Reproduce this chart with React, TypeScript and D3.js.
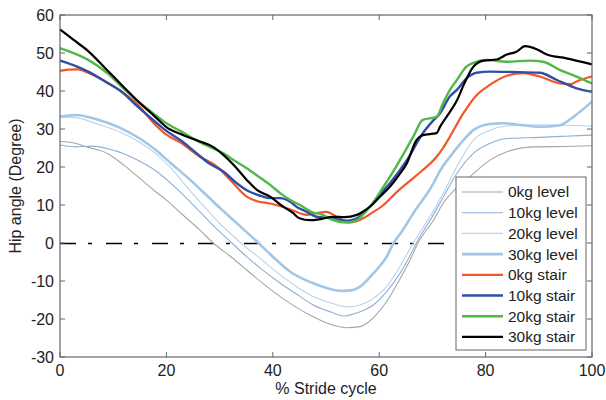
import React from "react";
import * as d3 from "d3";

type P = [number, number];

const level0: P[] = [[0,26.7],[3,26.2],[5,25.3],[9,23.5],[12,20.5],[15,17],[18,13.5],[20,11.3],[23,7.5],[26.3,3.4],[28.8,0],[32,-3.5],[35.1,-7.1],[38,-10.5],[41.4,-14.1],[44.5,-17],[47.6,-19.4],[50.8,-21.4],[53.9,-22.3],[56.4,-22],[58,-20.8],[59.5,-18.8],[61.4,-15.4],[63.9,-9.5],[65.8,-4.5],[67.3,0],[70.2,6],[72,10.4],[74.6,14.5],[77,17.4],[80.8,21.8],[84,24],[89,25.3],[95,25.4],[100,25.6]];
const level10: P[] = [[0,25.8],[3,25.3],[6,25.5],[9,24.8],[12,23.5],[15,21.5],[18,19],[21,15.5],[24,11.5],[26.3,8.2],[29,4.3],[32.3,0],[35,-3.5],[38,-7],[41.4,-10.6],[44.5,-13.5],[47.6,-16.3],[50.8,-18.1],[53.3,-19.2],[56.4,-18.1],[58.9,-16.3],[61.4,-12.8],[63.9,-8],[65.8,-3.3],[67,0],[70,7],[72,12],[74.6,18.3],[77.7,23.6],[80.8,26.2],[84,27.5],[90,27.8],[95,28.1],[100,28.4]];
const level20: P[] = [[0,33.2],[3,33],[7,31.3],[11.6,29],[15,26.5],[18,23.5],[21,19.5],[24,14.5],[26.3,10.8],[30,5.2],[34,0],[38,-4.5],[41.4,-8.4],[44.5,-11.5],[47.6,-14.1],[50.8,-15.7],[53.9,-16.8],[56.4,-16.3],[58.9,-14.6],[61.4,-11.5],[63.9,-6.2],[66.4,0],[70,8],[72,13],[74.6,20.1],[77.7,27.1],[80.8,29.7],[84,30.8],[90,31.1],[95,31],[100,30.8]];
const level30: P[] = [[0,33.2],[3,33.7],[7,32.5],[11,30.5],[15,27.5],[18,24.5],[21,20.8],[24,17.2],[27,13.3],[30,9.3],[33,5.5],[37.3,0],[40,-3.6],[43.2,-7.5],[47.6,-10.6],[50,-11.8],[53,-12.6],[55,-12.4],[56.4,-11.5],[58.9,-8],[61.4,-3.6],[62.7,0],[64,2.5],[66.4,7.8],[70.2,15.7],[71.5,19.2],[73.3,22.7],[75.2,26],[77.7,29.7],[80.8,31.3],[83.3,31.5],[87,31],[90,30.6],[94,31],[96.5,33.2],[100,37.2]];

const stair0: P[] = [[0,45.3],[1.5,45.6],[3.4,45.7],[5.3,44.8],[8.5,42.5],[11.6,39.8],[14.7,36.3],[17.9,31.1],[20,28.5],[22.6,26.5],[26.3,22.7],[29.5,20.1],[32,16.6],[35.1,12.2],[37,11],[39.5,10.4],[43.2,8.9],[46.4,7.4],[48,7.8],[50.1,8.2],[52,6.9],[54.5,5.4],[57,6.5],[58.5,7.8],[60.8,10],[63,13],[65.2,15.7],[68.2,19.2],[70.8,22.7],[72,25],[73.3,28],[75.8,34.1],[78.3,38.9],[80.8,41.6],[84,44],[87.1,44.7],[90.2,43.8],[94,42],[96,41.8],[97.1,42.5],[100,43.8]];
const stair10: P[] = [[0,48],[2.5,46.8],[5.3,45.1],[8.5,42.5],[11.6,39.8],[14.5,36],[17.9,31.9],[20,29.5],[22.6,27.1],[25.7,23.6],[28,21],[30.7,18.8],[33,16],[35.1,13.9],[37.5,12.5],[39.5,11.8],[41.4,11.8],[43.2,10.9],[44.5,9.5],[46.4,8.2],[48.2,6.9],[51.3,6.5],[53.9,5.9],[55.8,6.5],[57,7.8],[58.3,9.6],[60,12.5],[62,15.7],[65.2,21.8],[68.2,28.9],[70,32],[71.4,34.1],[73.3,38.6],[74.6,40.3],[76.4,43.3],[78.3,44.8],[80.8,45.1],[85,45],[90.2,44.8],[93.4,42.9],[97.1,40.7],[100,39.8]];
const stair20: P[] = [[0,51.3],[2.5,50],[5.3,48.2],[9,44.6],[11.6,41.1],[14.5,37.5],[17.9,33.7],[20,31.5],[22.6,29.5],[26.3,26.5],[30.7,23.6],[33,21.5],[35.1,19.7],[37.5,17.3],[39.5,15.3],[41.5,13],[43.8,10.9],[45.1,10],[47.6,8],[49,7.6],[51.3,6.05],[53.9,5.4],[55.8,6],[57,7.5],[58.3,9.6],[60.8,14.8],[62.5,18.5],[63.9,21.8],[66.4,28],[68.2,32.4],[70.8,33.2],[72,36.8],[73.3,40.3],[74.6,42.9],[76.4,46.4],[77.7,47.4],[80.2,48.2],[84,47.7],[88.3,48],[90.8,47.7],[94,45.5],[97.1,43.8],[100,42]];
const stair30: P[] = [[0,56.2],[2.5,53.5],[5.3,50.5],[8.5,46],[11.6,41.6],[14.5,37.5],[17.9,33.2],[20,30.5],[23,28.5],[26.3,26.7],[28.5,25.5],[30.7,23.2],[33,20],[35.1,16.6],[37,14],[39.5,12.2],[41.5,10],[43.8,7.9],[45,6.5],[47,6],[49,6.3],[51.3,6.9],[53.5,6.8],[55.8,7.4],[57,8.3],[58.3,9.6],[60,12],[62,14.8],[63.5,17.5],[65.2,21],[67,27.1],[68.2,28.4],[70.8,28.9],[71.4,30.5],[73.3,34.5],[74.6,37.5],[76,42],[77.7,46.4],[79.6,48],[82.1,48.3],[84,49.6],[85.8,50.3],[87.4,51.8],[89.6,51],[91.5,49.6],[95.2,48.6],[100,47]];

const seriesNames = ["0kg level","10kg level","20kg level","30kg level","0kg stair","10kg stair","20kg stair","30kg stair"];
const seriesData = [level0, level10, level20, level30, stair0, stair10, stair20, stair30];
const seriesColors = ["#a6a6a6","#8eb0d6","#b9d3ed","#a2c6e6","#f2562a","#2f4fa6","#4fb947","#000000"];
const seriesWidths = [1.1, 1.1, 1.1, 2.6, 2.2, 2.4, 2.4, 2.2];

const xTicks = [0, 20, 40, 60, 80, 100];
const yTicks = [-30, -20, -10, 0, 10, 20, 30, 40, 50, 60];

export default function App() {
  const W = 606, H = 400;
  const L = 60, R = 592, T = 15, B = 357;
  const x = d3.scaleLinear().domain([0, 100]).range([L, R]);
  const y = d3.scaleLinear().domain([-30, 60]).range([B, T]);
  const line = d3.line<P>().x(d => x(d[0])).y(d => y(d[1])).curve(d3.curveMonotoneX);
  const font = "'Liberation Sans', Arial, sans-serif";
  const axisColor = "#666";
  const lg = { x: 456, y: 177, w: 130, h: 173, row: 20.7 };
  return (
    <svg width={W} height={H} style={{ position: "absolute", left: 0, top: 0 }} fontFamily={font}>
      <rect x={0} y={0} width={W} height={H} fill="#fff" />
      <line x1={L} x2={R} y1={y(0) + 0.5} y2={y(0) + 0.5} stroke="#000" strokeWidth={1.3} strokeDasharray="16,12,4,14" />
      {seriesData.map((s, i) => (
        <path key={i} d={line(s) || ""} fill="none" stroke={seriesColors[i]} strokeWidth={seriesWidths[i]} strokeLinejoin="round" />
      ))}
      <rect x={L} y={T} width={R - L} height={B - T} fill="none" stroke={axisColor} strokeWidth={1.2} />
      {xTicks.map(t => (
        <g key={"x" + t}>
          <line x1={x(t)} x2={x(t)} y1={B} y2={B - 5} stroke={axisColor} />
          <line x1={x(t)} x2={x(t)} y1={T} y2={T + 5} stroke={axisColor} />
          <text x={x(t)} y={B + 19} textAnchor="middle" fontSize={16} fill="#222">{t}</text>
        </g>
      ))}
      {yTicks.map(t => (
        <g key={"y" + t}>
          <line x1={L} x2={L + 5} y1={y(t)} y2={y(t)} stroke={axisColor} />
          <line x1={R} x2={R - 5} y1={y(t)} y2={y(t)} stroke={axisColor} />
          <text x={L - 6} y={y(t)} dy="0.35em" textAnchor="end" fontSize={16} fill="#222">{t}</text>
        </g>
      ))}
      <text x={(L + R) / 2} y={394} textAnchor="middle" fontSize={16} fill="#222">% Stride cycle</text>
      <text transform={`translate(21,${(T + B) / 2}) rotate(-90)`} textAnchor="middle" fontSize={16} fill="#222">Hip angle (Degree)</text>
      <rect x={lg.x} y={lg.y} width={lg.w} height={lg.h} fill="#fff" stroke={axisColor} strokeWidth={1} />
      {seriesNames.map((n, i) => {
        const yy = lg.y + 15 + i * lg.row;
        return (
          <g key={n}>
            <line x1={lg.x + 6} x2={lg.x + 47} y1={yy} y2={yy} stroke={seriesColors[i]} strokeWidth={seriesWidths[i]} />
            <text x={lg.x + 52} y={yy} dy="0.35em" fontSize={15.5} fill="#222">{n}</text>
          </g>
        );
      })}
    </svg>
  );
}
